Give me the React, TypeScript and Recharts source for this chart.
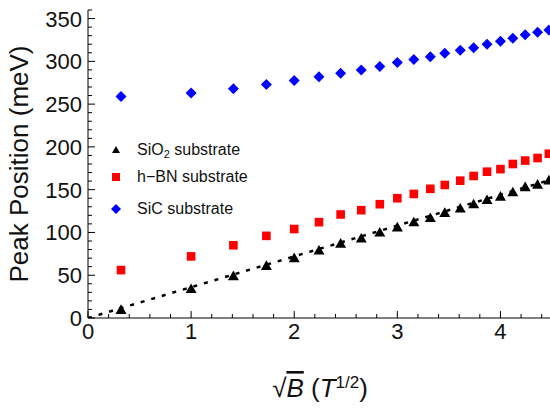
import React from 'react';
import { ComposedChart, Scatter, XAxis, YAxis, Legend } from 'recharts';

// sqrt(B) positions of the measurements, in T^(1/2)
const sqrtB = [0.32, 1.0, 1.41, 1.73, 2.0, 2.24, 2.45, 2.65, 2.83, 3.0, 3.16, 3.32, 3.46, 3.61, 3.74, 3.87, 4.0, 4.12, 4.24, 4.36, 4.47];
// peak positions in meV
const sio2 = [9.5, 34, 49, 61, 70, 79, 87, 93, 100, 106, 112, 117, 123, 128, 133, 138, 142, 147, 153, 156, 161];
const hbn = [56, 72, 85, 96, 104, 112, 121, 126, 133, 140, 145, 151, 155.5, 160.5, 166, 171, 174, 180, 184, 187, 192];
const sic = [259, 263, 268, 273, 277.5, 282, 286, 290, 294, 298.5, 302, 305.5, 309.5, 313, 316, 320, 323.5, 327, 331, 334, 336.5];
// dotted linear fit through the SiO2 points
const fitX = [0, 4.5];
const fitY = [0, 162];

const seriesNames = ['SiO2 substrate', 'h\u2212BN substrate', 'SiC substrate'];
const xMajor = [0, 1, 2, 3, 4];
const yMajor = [0, 50, 100, 150, 200, 250, 300, 350];

const xTicks = Array.from({ length: 23 }, (_, i) => Math.round(i * 2) / 10);
const yTicks = Array.from({ length: 37 }, (_, i) => i * 10);

const FONT = '"Liberation Sans", Arial, sans-serif';

const toPoints = (ys: number[]) => sqrtB.map((x, i) => ({ x, y: ys[i] }));
const sio2Data = toPoints(sio2);
const hbnData = toPoints(hbn);
const sicData = toPoints(sic);
const fitData = fitX.map((x, i) => ({ x, y: fitY[i] }));

const isMajor = (list: number[], v: number) => list.some((m) => Math.abs(m - v) < 1e-6);

const Triangle = ({ cx, cy, r = 5.5, fill = '#000' }: any) => (
  <polygon points={`${cx},${cy - r} ${cx - r},${cy + r * 0.75} ${cx + r},${cy + r * 0.75}`} fill={fill} />
);
const Square = ({ cx, cy, r = 4.3, fill = '#f00' }: any) => (
  <rect x={cx - r} y={cy - r} width={2 * r} height={2 * r} fill={fill} />
);
const Diamond = ({ cx, cy, r = 5.5, fill = '#00f' }: any) => (
  <polygon points={`${cx},${cy - r} ${cx + r},${cy} ${cx},${cy + r} ${cx - r},${cy}`} fill={fill} />
);
const Nothing = () => <g />;

const BottomTick = ({ x, y, payload }: any) => {
  const major = isMajor(xMajor, payload.value);
  return (
    <g>
      <line x1={x} x2={x} y1={y} y2={y - (major ? 7 : 4)} stroke="#000" />
      {major && (
        <text x={x} y={y + 21} textAnchor="middle" fontSize={22} fontFamily={FONT} fill="#111">
          {payload.value}
        </text>
      )}
    </g>
  );
};

const TopTick = ({ x, y, payload }: any) => {
  const major = isMajor(xMajor, payload.value);
  return <line x1={x} x2={x} y1={y} y2={y + (major ? 7 : 4)} stroke="#000" />;
};

const LeftTick = ({ x, y, payload }: any) => {
  const major = isMajor(yMajor, payload.value);
  return (
    <g>
      <line x1={x} x2={x + (major ? 7 : 4)} y1={y} y2={y} stroke="#000" />
      {major && (
        <text x={x - 6} y={y + 8} textAnchor="end" fontSize={22} fontFamily={FONT} fill="#111">
          {payload.value}
        </text>
      )}
    </g>
  );
};

const RightTick = ({ x, y, payload }: any) => {
  const major = isMajor(yMajor, payload.value);
  return <line x1={x} x2={x - (major ? 7 : 4)} y1={y} y2={y} stroke="#000" />;
};

const YLabel = ({ viewBox }: any) => {
  const cy = viewBox.y + viewBox.height / 2;
  return (
    <text x={28} y={cy} transform={`rotate(-90 28 ${cy})`} textAnchor="middle" fontSize={26} fontFamily={FONT} fill="#111">
      Peak Position (meV)
    </text>
  );
};

const XLabel = ({ viewBox }: any) => {
  const cx = viewBox.x + viewBox.width / 2;
  return (
    <text x={cx} y={397} textAnchor="middle" fontSize={26} fontFamily={FONT} fill="#111">
      <tspan>{'\u221A'}</tspan>
      <tspan fontStyle="italic" textDecoration="overline">B</tspan>
      <tspan> (</tspan>
      <tspan fontStyle="italic">T</tspan>
      <tspan baselineShift="super" fontSize={17}>1/2</tspan>
      <tspan>)</tspan>
    </text>
  );
};

const markers = [Triangle, Square, Diamond];
const gaps = [0, 5, 10];

const renderLegend = () => (
  <div style={{ fontFamily: FONT, fontSize: 16, color: '#111' }}>
    {seriesNames.map((name, i) => {
      const Marker = markers[i];
      return (
        <div key={name} style={{ display: 'flex', alignItems: 'center', height: 22, marginTop: gaps[i] }}>
          <svg width={16} height={16}>
            <Marker cx={8} cy={8} r={i === 2 ? 5 : 4} fill={['#000', '#f00', '#00f'][i]} />
          </svg>
          <span style={{ marginLeft: 13 }}>
            {i === 0 ? (
              <>
                SiO<sub style={{ fontSize: 11, verticalAlign: -3 }}>2</sub> substrate
              </>
            ) : (
              name
            )}
          </span>
        </div>
      );
    })}
  </div>
);

export default function App() {
  return (
    <div style={{ position: 'absolute', left: 0, top: 0, width: 550, height: 414, overflow: 'hidden', background: '#fff' }}>
      <ComposedChart width={552} height={414} margin={{ top: 10, right: 0, left: 0, bottom: 0 }}>
        <XAxis
          dataKey="x"
          type="number"
          domain={[0, 4.5]}
          ticks={xTicks}
          interval={0}
          tickSize={0}
          tickMargin={0}
          tick={<BottomTick />}
          tickLine={false}
          axisLine={{ stroke: '#000' }}
          height={96}
          allowDataOverflow
          label={<XLabel />}
        />
        <XAxis
          xAxisId="top"
          orientation="top"
          type="number"
          domain={[0, 4.5]}
          ticks={xTicks}
          interval={0}
          tickSize={0}
          tickMargin={0}
          tick={<TopTick />}
          tickLine={false}
          axisLine={{ stroke: '#000' }}
          height={0}
          allowDataOverflow
        />
        <YAxis
          dataKey="y"
          type="number"
          domain={[0, 360]}
          ticks={yTicks}
          interval={0}
          tickSize={0}
          tickMargin={0}
          tick={<LeftTick />}
          tickLine={false}
          axisLine={{ stroke: '#000' }}
          width={88}
          allowDataOverflow
          label={<YLabel />}
        />
        <YAxis
          yAxisId="right"
          orientation="right"
          type="number"
          domain={[0, 360]}
          ticks={yTicks}
          interval={0}
          tickSize={0}
          tickMargin={0}
          tick={<RightTick />}
          tickLine={false}
          axisLine={{ stroke: '#000' }}
          width={0}
          allowDataOverflow
        />
        <Legend
          layout="vertical"
          align="center"
          verticalAlign="middle"
          wrapperStyle={{ left: 108, top: 139, width: 200 }}
          content={renderLegend}
        />
        <Scatter
          name="fit"
          data={fitData}
          shape={<Nothing />}
          line={{ stroke: '#000', strokeWidth: 2.5, strokeDasharray: '4 7' }}
          legendType="none"
          isAnimationActive={false}
        />
        <Scatter name={seriesNames[0]} data={sio2Data} fill="#000" shape={<Triangle />} isAnimationActive={false} />
        <Scatter name={seriesNames[1]} data={hbnData} fill="#f00" shape={<Square />} isAnimationActive={false} />
        <Scatter name={seriesNames[2]} data={sicData} fill="#00f" shape={<Diamond />} isAnimationActive={false} />
      </ComposedChart>
    </div>
  );
}
